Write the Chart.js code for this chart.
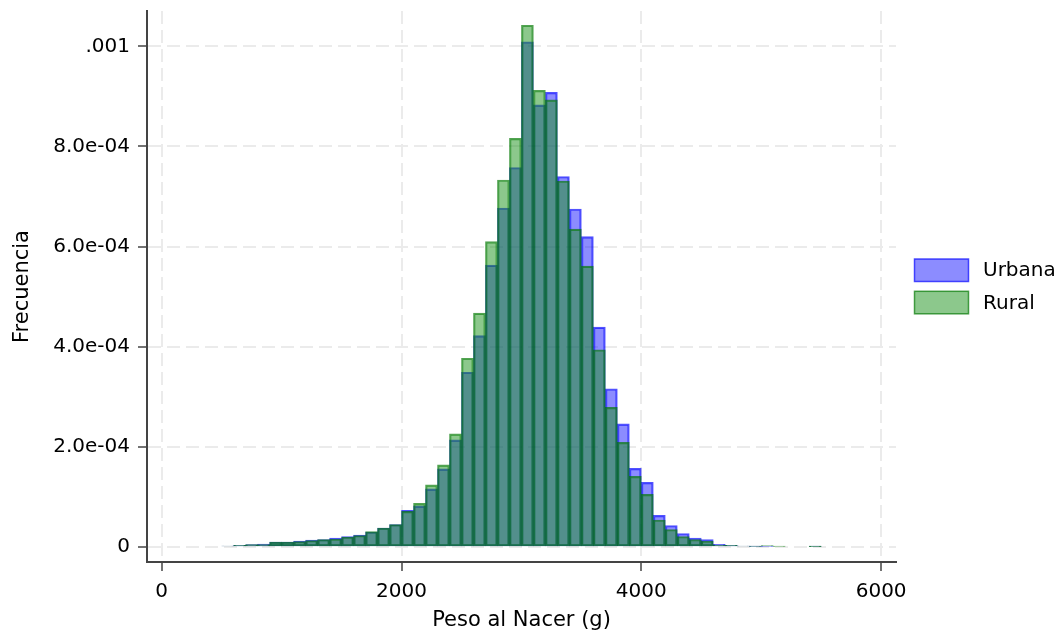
<!DOCTYPE html>
<html>
<head>
<meta charset="utf-8">
<script src="https://cdn.jsdelivr.net/npm/chart.js@4/dist/chart.umd.min.js"></script>
<style>
  body { margin: 0; background: #fff; }
</style>
</head>
<body>
<canvas id="hist-chart" width="1063" height="631"></canvas>
<script>
// bin start (g), each bin is 100 g wide
const binStart = [500, 600, 700, 800, 900, 1000, 1100, 1200, 1300, 1400,
                  1500, 1600, 1700, 1800, 1900, 2000, 2100, 2200, 2300, 2400,
                  2500, 2600, 2700, 2800, 2900, 3000, 3100, 3200, 3300, 3400,
                  3500, 3600, 3700, 3800, 3900, 4000, 4100, 4200, 4300, 4400,
                  4500, 4600, 4700, 4800, 4900, 5000, 5100, 5200, 5300, 5400];
const binWidth = 100;

// density
const urbana = [0.0000020, 0.0000035, 0.0000050, 0.0000060, 0.0000100, 0.0000100, 0.0000120, 0.0000140, 0.0000150, 0.0000180,
                0.0000210, 0.0000240, 0.0000300, 0.0000380, 0.0000450, 0.0000730, 0.0000820, 0.0001160, 0.0001560, 0.0002140,
                0.0003490, 0.0004220, 0.0005630, 0.0006770, 0.0007580, 0.0010090, 0.0008830, 0.0009080, 0.0007400, 0.0006750,
                0.0006200, 0.0004390, 0.0003160, 0.0002460, 0.0001570, 0.0001290, 0.0000630, 0.0000430, 0.0000270, 0.0000180,
                0.0000150, 0.0000055, 0.0000035, 0.0000020, 0.0000010, 0.0000010, 0.0000000, 0.0000000, 0.0000000, 0.0000010];
const rural  = [0.0000020, 0.0000035, 0.0000050, 0.0000050, 0.0000100, 0.0000100, 0.0000110, 0.0000130, 0.0000150, 0.0000160,
                0.0000200, 0.0000230, 0.0000310, 0.0000380, 0.0000450, 0.0000710, 0.0000870, 0.0001240, 0.0001640, 0.0002260,
                0.0003770, 0.0004670, 0.0006100, 0.0007330, 0.0008160, 0.0010420, 0.0009120, 0.0008930, 0.0007310, 0.0006350,
                0.0005610, 0.0003940, 0.0002790, 0.0002090, 0.0001410, 0.0001050, 0.0000540, 0.0000350, 0.0000210, 0.0000150,
                0.0000120, 0.0000040, 0.0000035, 0.0000020, 0.0000010, 0.0000030, 0.0000010, 0.0000000, 0.0000000, 0.0000005];

const xTicks = [0, 2000, 4000, 6000];
const xTickLabels = ['0', '2000', '4000', '6000'];
const yTicks = [0, 0.0002, 0.0004, 0.0006, 0.0008, 0.001];
const yTickLabels = ['0', '2.0e-04', '4.0e-04', '6.0e-04', '8.0e-04', '.001'];

const seriesNames = ['Urbana', 'Rural'];

function toPoints(values) {
    return values.map((v, i) => ({ x: binStart[i] + binWidth / 2, y: v }));
}

const FONT = '"DejaVu Sans", sans-serif';
const AXIS_COLOR = '#444444';

function noEdgePadding(scale) {
    scale.paddingTop = 0;
    scale.paddingBottom = 0;
    scale.paddingLeft = 0;
    scale.paddingRight = 0;
}

function axisOpts(extra) {
    return Object.assign({
        type: 'linear',
        offset: false,
        grid: {
            color: '#ebebeb',
            lineWidth: 2,
            offset: false,
            drawTicks: true,
            tickLength: 9,
            tickColor: AXIS_COLOR,
            tickWidth: 1.5,
            tickBorderDash: []
        },
        border: { display: true, color: AXIS_COLOR, width: 2, dash: [13, 6] },
    }, extra);
}

// legend drawn at the right, beside the plot
const sideLegend = {
    id: 'sideLegend',
    afterDraw(chart) {
        const ctx = chart.ctx;
        ctx.save();
        ctx.font = '20px ' + FONT;
        ctx.textBaseline = 'middle';
        ctx.textAlign = 'left';
        chart.data.datasets.forEach((ds, i) => {
            const bx = 914.5, by = 259 + i * 32.3;
            ctx.fillStyle = ds.backgroundColor;
            ctx.fillRect(bx, by, 54, 22.5);
            ctx.strokeStyle = ds.borderColor;
            ctx.lineWidth = 1.5;
            ctx.strokeRect(bx, by, 54, 22.5);
            ctx.fillStyle = '#000';
            ctx.fillText(ds.label, 983, by + 12);
        });
        ctx.restore();
    }
};

const ctx = document.querySelector('#hist-chart').getContext('2d');

new Chart(ctx, {
    type: 'bar',
    data: {
        datasets: [
            {
                label: seriesNames[0],
                data: toPoints(urbana),
                backgroundColor: 'rgba(0, 0, 255, 0.45)',
                borderColor: 'rgba(0, 0, 255, 0.68)',
                borderWidth: 1.5,
                borderSkipped: false,
                order: 2
            },
            {
                label: seriesNames[1],
                data: toPoints(rural),
                backgroundColor: 'rgba(25, 145, 25, 0.5)',
                borderColor: 'rgba(0, 120, 0, 0.68)',
                borderWidth: 1.5,
                borderSkipped: false,
                order: 1
            }
        ]
    },
    options: {
        responsive: false,
        animation: false,
        layout: { padding: { top: 11, right: 167, left: 0, bottom: 0 } },
        datasets: {
            bar: { grouped: false, barPercentage: 1, categoryPercentage: 1 }
        },
        plugins: {
            legend: { display: false },
            tooltip: { enabled: false }
        },
        scales: {
            x: axisOpts({
                min: -122.6,
                max: 6124,
                afterBuildTicks: scale => { scale.ticks = xTicks.map(v => ({ value: v })); },
                afterFit: scale => { scale.height = 69; noEdgePadding(scale); },
                ticks: {
                    font: { family: FONT, size: 20 },
                    color: '#000',
                    padding: 9,
                    maxRotation: 0,
                    callback: (value, index) => xTickLabels[index]
                },
                title: {
                    display: true,
                    text: 'Peso al Nacer (g)',
                    font: { family: FONT, size: 21, lineHeight: 1 },
                    color: '#000',
                    padding: { top: 0, bottom: 0 }
                }
            }),
            y: axisOpts({
                min: -0.00002996,
                max: 0.0010705,
                afterBuildTicks: scale => { scale.ticks = yTicks.map(v => ({ value: v })); },
                afterFit: scale => { scale.width = 147; noEdgePadding(scale); },
                ticks: {
                    font: { family: FONT, size: 20 },
                    color: '#000',
                    padding: 8,
                    callback: (value, index) => yTickLabels[index]
                },
                title: {
                    display: true,
                    text: 'Frecuencia',
                    font: { family: FONT, size: 21, lineHeight: 1 },
                    color: '#000',
                    padding: { top: 12, bottom: 0 }
                }
            })
        }
    },
    plugins: [sideLegend]
});
</script>
</body>
</html>
